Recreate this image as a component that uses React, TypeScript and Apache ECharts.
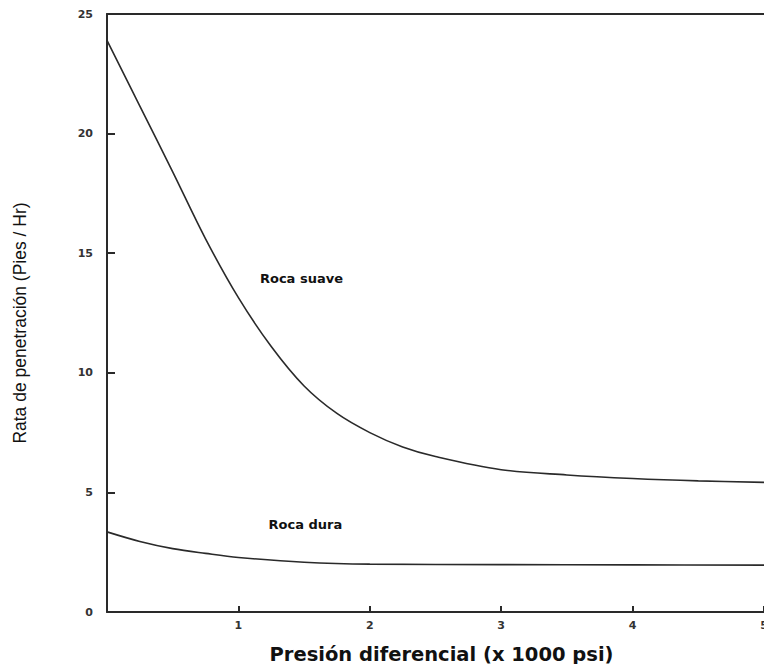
import React, { useEffect, useRef } from "react";
import * as echarts from "echarts";

const xSuave = [0, 0.25, 0.5, 0.75, 1, 1.25, 1.5, 1.75, 2, 2.25, 2.5, 3, 3.5, 4, 4.5, 5];
const rocaSuave = [23.9, 21.15, 18.4, 15.6, 13.14, 11.1, 9.45, 8.3, 7.5, 6.9, 6.5, 5.95, 5.73, 5.58, 5.48, 5.42];
const xDura = [0, 0.25, 0.5, 0.75, 1, 1.5, 2, 3, 4, 5];
const rocaDura = [3.35, 2.95, 2.65, 2.45, 2.28, 2.08, 2.0, 1.98, 1.97, 1.96];

const labelSuave = { text: "Roca suave", x: 1.48, y: 13.95 };
const labelDura = { text: "Roca dura", x: 1.51, y: 3.66 };

const xAxisTitle = "Presión diferencial (x 1000 psi)";
const yAxisTitle = "Rata de penetración (Pies / Hr)";

const tickFont = "DejaVu Sans";
const lineColor = "#2a2a2a";

export default function App() {
  const ref = useRef<HTMLDivElement>(null);
  useEffect(() => {
    if (!ref.current) return;
    const chart = echarts.init(ref.current, undefined, { renderer: "svg" });
    const annot = (l: { text: string; x: number; y: number }) => ({
      coord: [l.x, l.y],
      symbol: "circle",
      symbolSize: 1,
      itemStyle: { color: "rgba(0,0,0,0)" },
      label: {
        show: true,
        position: "inside",
        formatter: l.text,
        color: "#111",
        fontFamily: tickFont,
        fontWeight: "bold",
        fontSize: 13,
      },
    });
    chart.setOption({
      animation: false,
      backgroundColor: "#ffffff",
      grid: {
        left: 107,
        right: 0,
        top: 14,
        bottom: 52,
        containLabel: false,
        outerBoundsMode: "none",
      },
      xAxis: [
        {
          type: "value",
          min: 0,
          max: 5,
          interval: 1,
          position: "bottom",
          name: xAxisTitle,
          nameLocation: "middle",
          nameGap: 32,
          nameTextStyle: {
            fontFamily: tickFont,
            fontWeight: "bold",
            fontSize: 19.5,
            color: "#111",
            padding: [0, 0, 0, 12],
          },
          axisLine: { show: true, lineStyle: { color: lineColor, width: 2 } },
          axisTick: { show: true, inside: true, length: 6, lineStyle: { color: lineColor, width: 2 } },
          axisLabel: {
            showMinLabel: false,
            margin: 8,
            fontFamily: tickFont,
            fontWeight: "bold",
            fontSize: 11,
            color: "#333",
          },
          splitLine: { show: false },
        },
        {
          type: "value",
          min: 0,
          max: 5,
          interval: 1,
          position: "top",
          axisLine: { show: true, lineStyle: { color: lineColor, width: 2 } },
          axisTick: { show: false },
          axisLabel: { show: false },
          splitLine: { show: false },
        },
      ],
      yAxis: {
        type: "value",
        min: 0,
        max: 25,
        interval: 5,
        name: yAxisTitle,
        nameLocation: "middle",
        nameGap: 78,
        nameTextStyle: {
          fontFamily: "Liberation Sans",
          fontSize: 17.5,
          color: "#111",
          padding: [0, 20, 0, 0],
        },
        axisLine: { show: true, lineStyle: { color: lineColor, width: 2 } },
        axisTick: { show: true, inside: true, length: 8, lineStyle: { color: lineColor, width: 2 } },
        axisLabel: {
          margin: 14,
          fontFamily: tickFont,
          fontWeight: "bold",
          fontSize: 11,
          color: "#333",
        },
        splitLine: { show: false },
      },
      series: [
        {
          name: "Roca suave",
          type: "line",
          smooth: 0.35,
          showSymbol: false,
          data: xSuave.map((x, i) => [x, rocaSuave[i]]),
          lineStyle: { color: lineColor, width: 1.6 },
          markPoint: { silent: true, data: [annot(labelSuave)] },
        },
        {
          name: "Roca dura",
          type: "line",
          smooth: 0.35,
          showSymbol: false,
          data: xDura.map((x, i) => [x, rocaDura[i]]),
          lineStyle: { color: lineColor, width: 1.6 },
          markPoint: { silent: true, data: [annot(labelDura)] },
        },
      ],
    });
    return () => chart.dispose();
  }, []);
  return (
    <div
      ref={ref}
      style={{ position: "fixed", left: 0, top: 0, width: 764, height: 664, background: "#fff" }}
    />
  );
}
